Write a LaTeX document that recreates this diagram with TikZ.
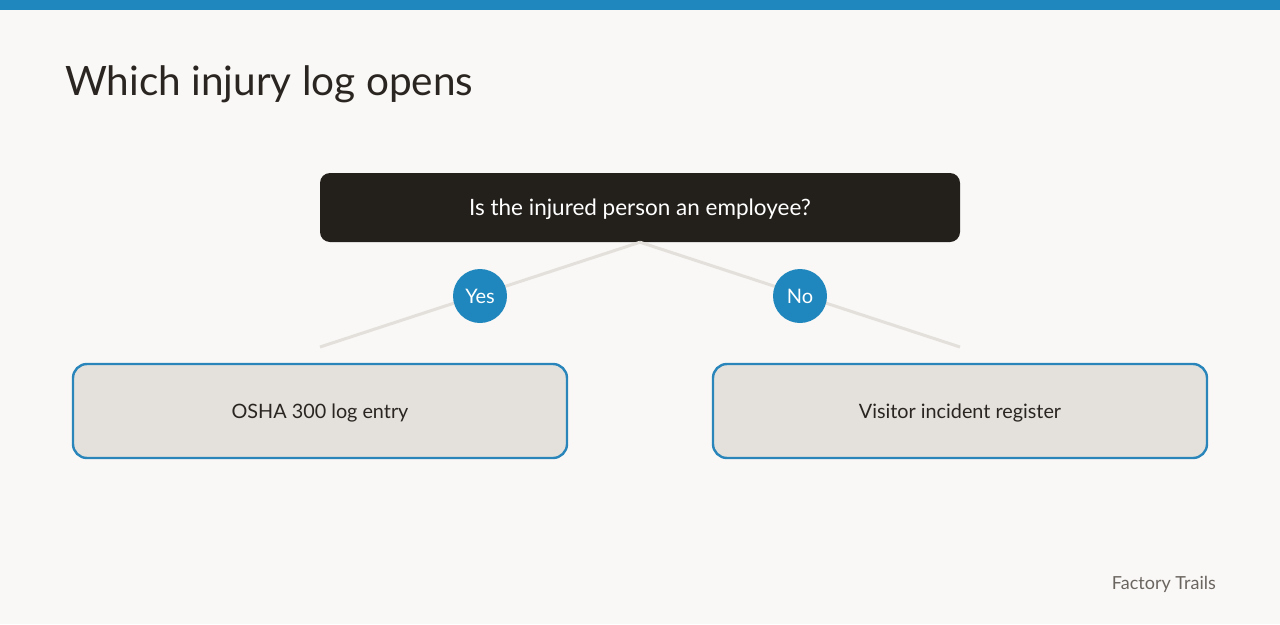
\documentclass[tikz,border=0pt]{standalone}
\usepackage{fontspec}
\setmainfont{Lato}
\definecolor{bg}{HTML}{F9F8F6}
\definecolor{bluebar}{HTML}{1F87BD}
\definecolor{darkbox}{HTML}{231F1A}
\definecolor{linegray}{HTML}{E3E0DB}
\definecolor{leaffill}{HTML}{E4E1DC}
\definecolor{leafborder}{HTML}{2A86BA}
\definecolor{inktext}{HTML}{2A2520}
\definecolor{footgray}{HTML}{6B6560}
\begin{document}
\begin{tikzpicture}[x=1pt,y=-1pt,
  question/.style={fill=darkbox,rounded corners=10pt,minimum width=640pt,minimum height=69pt,text=white,font=\fontsize{22.5}{27}\selectfont,inner sep=0pt,text height=21pt,text depth=4.5pt},
  answer/.style={circle,fill=bluebar,minimum size=54pt,inner sep=0pt,text=white,font=\fontsize{20}{24}\selectfont},
  leaf/.style={fill=leaffill,draw=leafborder,line width=2.4pt,rounded corners=14pt,minimum width=494pt,minimum height=94pt,text=inktext,font=\fontsize{19.8}{24}\selectfont,inner sep=0pt,text height=18.5pt,text depth=4pt},
  branch/.style={draw=linegray,line width=3pt}]
\path[use as bounding box,fill=bg] (0,0) rectangle (1280,624);
\fill[bluebar] (0,0) rectangle (1280,10);
\node[anchor=base west,text=inktext,font=\fontsize{40.5}{48}\selectfont,inner sep=0pt] (title) at (65,95) {Which injury log opens};
\node[question] (q) at (640,207.5) {Is the injured person an employee?};
\coordinate (lend) at (320,347);
\coordinate (rend) at (960,347);
\draw[branch] (q.south) -- (lend);
\draw[branch] (q.south) -- (rend);
\node[answer] (yes) at (480,296) {Yes};
\node[answer] (no) at (800,296) {No};
\node[leaf] (osha) at (320,411) {OSHA 300 log entry};
\node[leaf] (visitor) at (960,411) {Visitor incident register};
\node[anchor=base east,text=footgray,font=\fontsize{18}{22}\selectfont,inner sep=0pt] (brand) at (1216,589) {Factory Trails};
\end{tikzpicture}
\end{document}
